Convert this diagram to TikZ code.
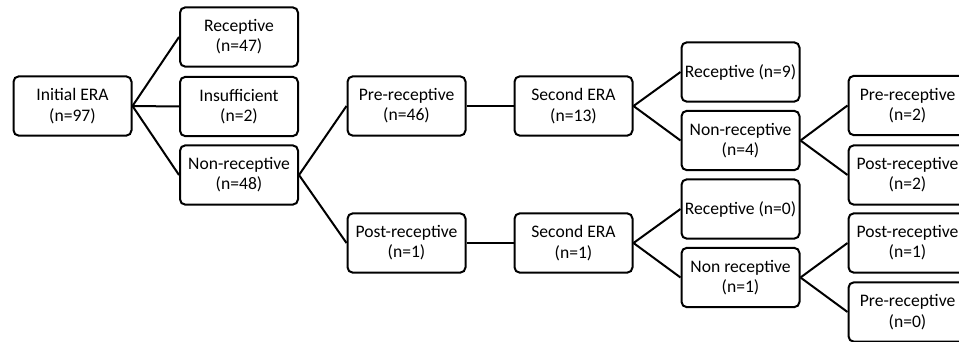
\documentclass[tikz,border=0pt]{standalone}
\usepackage{fontspec}
\setmainfont{Carlito}
\begin{document}
\begin{tikzpicture}[x=0.75pt,y=-0.75pt,
  stagebox/.style={draw, line width=1.5pt, rounded corners=4pt,
    minimum width=88.5pt, minimum height=44.5pt, align=center,
    inner sep=1pt, font=\fontsize{13.2pt}{15.2pt}\selectfont},
  link/.style={line width=1.5pt}]
\useasboundingbox (0,0) rectangle (959,342);
\clip (0,0) rectangle (959,342);

% first level
\node[stagebox] (init) at (72.5,106) {Initial ERA\\(n=97)};
\node[stagebox] (r47)  at (239,37)   {Receptive\\(n=47)};
\node[stagebox] (ins)  at (239,106.5){Insufficient\\(n=2)};
\node[stagebox] (nr48) at (239,175)  {Non-receptive\\(n=48)};

% second level
\node[stagebox] (pre46) at (406.5,106) {Pre-receptive\\(n=46)};
\node[stagebox] (post1) at (406.5,243) {Post-receptive\\(n=1)};
\node[stagebox] (sec13) at (573.5,106) {Second ERA\\(n=13)};
\node[stagebox] (sec1)  at (573.5,243) {Second ERA\\(n=1)};

% second ERA outcomes
\node[stagebox] (r9)  at (740.5,72)    {Receptive (n=9)};
\node[stagebox] (nr4) at (740.5,140.5) {Non-receptive\\(n=4)};
\node[stagebox] (r0)  at (740.5,209)   {Receptive (n=0)};
\node[stagebox] (nr1) at (740.5,277.5) {Non receptive\\(n=1)};

% final split
\node[stagebox] (pre2)   at (907.5,105.5) {Pre-receptive\\(n=2)};
\node[stagebox] (post2)  at (907.5,175)   {Post-receptive\\(n=2)};
\node[stagebox] (post1b) at (907.5,243)   {Post-receptive\\(n=1)};
\node[stagebox] (pre0)   at (907.5,312)   {Pre-receptive\\(n=0)};

% connectors
\draw[link] (init.east) -- (r47.west);
\draw[link] (init.east) -- (ins.west);
\draw[link] (init.east) -- (nr48.west);
\draw[link] (nr48.east) -- (pre46.west);
\draw[link] (nr48.east) -- (post1.west);
\draw[link] (pre46.east) -- (sec13.west);
\draw[link] (post1.east) -- (sec1.west);
\draw[link] (sec13.east) -- (r9.west);
\draw[link] (sec13.east) -- (nr4.west);
\draw[link] (sec1.east) -- (r0.west);
\draw[link] (sec1.east) -- (nr1.west);
\draw[link] (nr4.east) -- (pre2.west);
\draw[link] (nr4.east) -- (post2.west);
\draw[link] (nr1.east) -- (post1b.west);
\draw[link] (nr1.east) -- (pre0.west);
\end{tikzpicture}
\end{document}
